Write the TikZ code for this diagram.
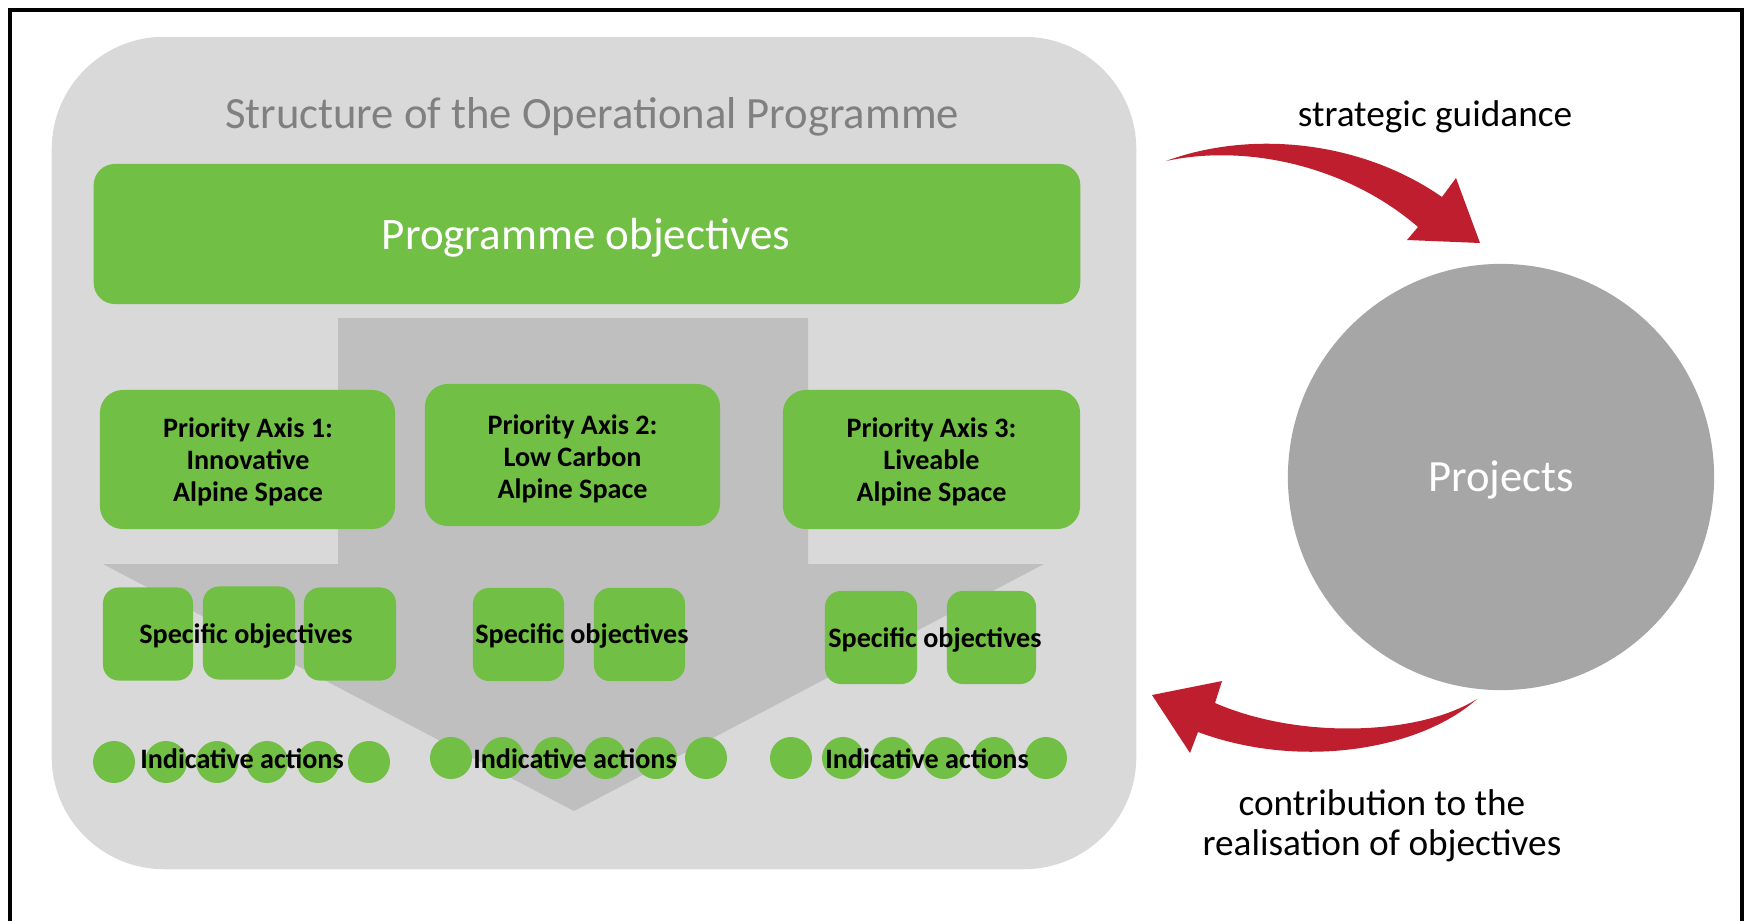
\documentclass[tikz,border=0pt]{standalone}
\usepackage{fontspec}
\setmainfont{Carlito}
\definecolor{pgreen}{RGB}{114,191,69}
\definecolor{bggray}{RGB}{217,217,217}
\definecolor{arrgray}{RGB}{191,191,191}
\definecolor{projgray}{RGB}{166,166,166}
\definecolor{titlegray}{RGB}{128,128,128}
\definecolor{pred}{RGB}{190,30,45}
\begin{document}
\begin{tikzpicture}[x=0.01cm,y=-0.01cm,
  bgbox/.style={fill=bggray, draw=none, rounded corners=32pt, inner sep=0pt},
  bigbox/.style={fill=pgreen, draw=none, rounded corners=6pt, inner sep=0pt, text=white, font=\fontsize{12.8}{15}\selectfont},
  axisbox/.style={fill=pgreen, draw=none, rounded corners=6.5pt, inner sep=0pt, align=center, font=\fontsize{8}{9.1}\selectfont\bfseries},
  sobox/.style={fill=pgreen, draw=none, rounded corners=4.5pt, inner sep=0pt, minimum height=0.93cm},
  iacirc/.style={circle, fill=pgreen, draw=none, inner sep=0pt, minimum size=0.42cm},
  smalllbl/.style={inner sep=0pt, font=\fontsize{8}{9}\selectfont\bfseries},
  sidelbl/.style={inner sep=0pt, align=center, font=\fontsize{10.6}{11.4}\selectfont},
  redarrow/.style={fill=pred, draw=none}
]
\useasboundingbox (0,0) rectangle (1751,921);
% frame
\draw[line width=1.1pt, line cap=rect] (10,925) -- (10,10) -- (1742,10) -- (1742,925);

% background panel
\node[bgbox, minimum width=10.84cm, minimum height=8.32cm] (bg) at (594,453) {};
\node[inner sep=0pt, text=titlegray, font=\fontsize{12.7}{15}\selectfont] (title) at (592,116.5) {Structure of the Operational Programme};

% big grey down arrow
\fill[arrgray] (338,318) -- (808,318) -- (808,564) -- (1044,564) -- (574,811) -- (103,564) -- (338,564) -- cycle;

% programme objectives
\node[bigbox, minimum width=9.86cm, minimum height=1.40cm] (prog) at (587,234) {};
\node[inner sep=0pt, text=white, font=\fontsize{12.8}{15}\selectfont] (progt) at (586,237.5) {Programme objectives};

% priority axes
\node[axisbox, minimum width=2.95cm, minimum height=1.39cm] (pa1) at (247.5,459.5) {};
\node[axisbox, minimum width=2.95cm, minimum height=1.42cm] (pa2) at (572.5,455) {};
\node[axisbox, minimum width=2.97cm, minimum height=1.39cm] (pa3) at (931.5,459.5) {};
\node[axisbox, fill=none] (pa1t) at (248,462) {Priority Axis 1:\\Innovative\\Alpine Space};
\node[axisbox, fill=none] (pa2t) at (572.5,458.5) {Priority Axis 2:\\Low Carbon\\Alpine Space};
\node[axisbox, fill=none] (pa3t) at (931.5,462) {Priority Axis 3:\\Liveable\\Alpine Space};

% specific objectives
\node[sobox, minimum width=0.90cm] (so11) at (148,634) {};
\node[sobox, minimum width=0.92cm] (so12) at (249,633) {};
\node[sobox, minimum width=0.92cm] (so13) at (350,634) {};
\node[sobox, minimum width=0.91cm] (so21) at (518.5,634.5) {};
\node[sobox, minimum width=0.91cm] (so22) at (639.5,634.5) {};
\node[sobox, minimum width=0.92cm] (so31) at (871,637.5) {};
\node[sobox, minimum width=0.89cm] (so32) at (991.5,637.5) {};
\node[smalllbl] (so1) at (246,636) {Specific objectives};
\node[smalllbl] (so2) at (582,636) {Specific objectives};
\node[smalllbl] (so3) at (935,640) {Specific objectives};

% indicative actions
\foreach \x [count=\i] in {114,166,217,267,318,369} \node[iacirc] (ia1\i) at (\x,762) {};
\foreach \x [count=\i] in {451,503,554,605,656,706} \node[iacirc] (ia2\i) at (\x,758) {};
\foreach \x [count=\i] in {791,843,893,944,994,1046} \node[iacirc] (ia3\i) at (\x,758) {};
\node[smalllbl] (ia1) at (242,759) {Indicative actions};
\node[smalllbl] (ia2) at (575,759) {Indicative actions};
\node[smalllbl] (ia3) at (927,759) {Indicative actions};

% projects
\node[circle, fill=projgray, draw=none, minimum size=4.26cm, inner sep=0pt] (proj) at (1501,477) {};
\node[inner sep=0pt, text=white, font=\fontsize{12.7}{15}\selectfont] (projt) at (1501,480) {Projects};

% labels
\node[sidelbl] (sg) at (1435,116.5) {strategic guidance};
\node[sidelbl] (contr) at (1382,825.5) {contribution to the\\realisation of objectives};

% red arrows
\coordinate (t1) at (1166,161);
\coordinate (t2) at (1477,699);
\fill[redarrow] (t1) .. controls (1250,130) and (1360,140) .. (1442,197)
  -- (1456,178) -- (1480,243) -- (1407,240) -- (1418,227)
  .. controls (1350,168) and (1250,143) .. (t1) -- cycle;
\fill[redarrow] (t2) .. controls (1420,735) and (1300,740) .. (1215,703)
  -- (1222,681) -- (1152,695) -- (1190,753) -- (1198,732)
  .. controls (1300,770) and (1420,750) .. (t2) -- cycle;
\end{tikzpicture}
\end{document}
